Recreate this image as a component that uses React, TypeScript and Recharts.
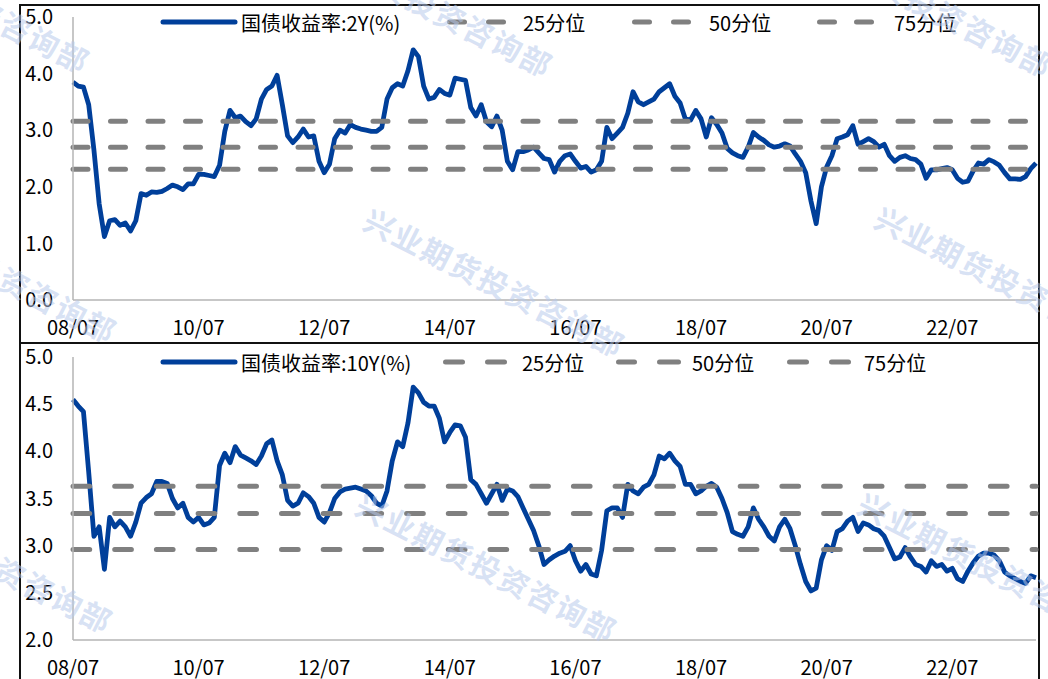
import React from 'react';
import { LineChart, Line, XAxis, YAxis } from 'recharts';

const FONT = '"Noto Sans CJK SC", "Noto Sans", sans-serif';

// Monthly observation dates, 2008-07 .. 2023-11
const START_YEAR = 2008;
const START_MONTH = 7;
const N_MONTHS = 185;
const months: string[] = Array.from({ length: N_MONTHS }, (_, i) => {
  const total = START_MONTH - 1 + i;
  const y = START_YEAR + Math.floor(total / 12);
  const m = (total % 12) + 1;
  return `${y}-${String(m).padStart(2, '0')}`;
});

const xTickPositions = [0, 24, 48, 72, 96, 120, 144, 168];
const xTickLabels = ['08/07', '10/07', '12/07', '14/07', '16/07', '18/07', '20/07', '22/07'];

// 国债收益率:2Y(%)  (rows = Jul..Jun)
const yield2Y = [
  3.85, 3.78, 3.76, 3.45, 2.65, 1.70, 1.12, 1.40, 1.42, 1.32, 1.36, 1.22,
  1.40, 1.88, 1.85, 1.91, 1.90, 1.92, 1.97, 2.03, 2.00, 1.95, 2.05, 2.05,
  2.22, 2.22, 2.20, 2.18, 2.38, 2.98, 3.35, 3.22, 3.25, 3.15, 3.08, 3.20,
  3.55, 3.72, 3.78, 3.97, 3.45, 2.90, 2.78, 2.88, 3.02, 2.88, 2.90, 2.45,
  2.25, 2.40, 2.85, 3.00, 2.95, 3.10, 3.05, 3.02, 3.00, 2.98, 2.98, 3.05,
  3.55, 3.75, 3.82, 3.78, 4.05, 4.42, 4.30, 3.78, 3.55, 3.58, 3.72, 3.65,
  3.62, 3.92, 3.90, 3.88, 3.40, 3.25, 3.45, 3.15, 3.06, 3.25, 3.00, 2.45,
  2.30, 2.62, 2.62, 2.65, 2.70, 2.60, 2.50, 2.48, 2.26, 2.45, 2.55, 2.58,
  2.45, 2.33, 2.36, 2.26, 2.30, 2.45, 3.05, 2.85, 2.95, 3.05, 3.30, 3.68,
  3.50, 3.45, 3.50, 3.55, 3.68, 3.75, 3.82, 3.60, 3.48, 3.20, 3.18, 3.35,
  3.20, 2.88, 3.22, 3.10, 2.95, 2.68, 2.60, 2.55, 2.52, 2.70, 2.96, 2.88,
  2.82, 2.74, 2.70, 2.72, 2.76, 2.72, 2.58, 2.45, 2.25, 1.75, 1.35, 2.00,
  2.35, 2.55, 2.85, 2.88, 2.92, 3.08, 2.75, 2.80, 2.85, 2.80, 2.70, 2.75,
  2.55, 2.45, 2.52, 2.55, 2.50, 2.48, 2.40, 2.15, 2.30, 2.30, 2.32, 2.34,
  2.30, 2.15, 2.08, 2.10, 2.28, 2.42, 2.40, 2.48, 2.44, 2.38, 2.25, 2.14,
  2.14, 2.13, 2.18, 2.32, 2.42,
];

// 国债收益率:10Y(%)
const yield10Y = [
  4.55, 4.48, 4.42, 3.78, 3.10, 3.20, 2.75, 3.30, 3.20, 3.26, 3.20, 3.10,
  3.25, 3.45, 3.51, 3.55, 3.68, 3.68, 3.66, 3.50, 3.40, 3.45, 3.30, 3.25,
  3.30, 3.22, 3.24, 3.30, 3.85, 3.98, 3.88, 4.05, 3.96, 3.93, 3.90, 3.86,
  3.95, 4.08, 4.12, 3.90, 3.75, 3.48, 3.42, 3.45, 3.56, 3.52, 3.45, 3.30,
  3.25, 3.35, 3.50, 3.57, 3.60, 3.61, 3.62, 3.60, 3.58, 3.53, 3.45, 3.42,
  3.58, 3.90, 4.10, 4.05, 4.30, 4.68, 4.62, 4.52, 4.48, 4.48, 4.35, 4.10,
  4.20, 4.28, 4.27, 4.15, 3.70, 3.65, 3.55, 3.45, 3.55, 3.65, 3.48, 3.60,
  3.58, 3.52, 3.40, 3.28, 3.16, 3.00, 2.80, 2.85, 2.89, 2.92, 2.94, 3.00,
  2.84, 2.73, 2.80, 2.70, 2.68, 2.95, 3.37, 3.40, 3.40, 3.30, 3.65, 3.58,
  3.55, 3.62, 3.65, 3.75, 3.95, 3.92, 3.98, 3.90, 3.84, 3.65, 3.65, 3.55,
  3.58, 3.63, 3.66, 3.62, 3.50, 3.35, 3.15, 3.12, 3.10, 3.20, 3.40, 3.28,
  3.20, 3.10, 3.05, 3.20, 3.28, 3.18, 3.00, 2.80, 2.62, 2.52, 2.55, 2.85,
  3.00, 2.95, 3.15, 3.18, 3.26, 3.30, 3.15, 3.24, 3.22, 3.18, 3.16, 3.10,
  2.98, 2.86, 2.88, 2.98, 2.88, 2.80, 2.78, 2.72, 2.84, 2.78, 2.80, 2.73,
  2.76, 2.65, 2.62, 2.73, 2.82, 2.89, 2.92, 2.92, 2.90, 2.84, 2.72, 2.68,
  2.65, 2.62, 2.60, 2.68, 2.66,
];

// 25 / 50 / 75 分位
const percentiles2Y = [2.31, 2.70, 3.16];
const percentiles10Y = [2.96, 3.34, 3.63];

const ticks2Y = [0, 1, 2, 3, 4, 5];
const ticks10Y = [2, 2.5, 3, 3.5, 4, 4.5, 5];

const legendNames2Y = ['国债收益率:2Y(%)', '25分位', '50分位', '75分位'];
const legendNames10Y = ['国债收益率:10Y(%)', '25分位', '50分位', '75分位'];

const build = (vals: number[], pct: number[]) =>
  months.map((d, i) => ({ t: i, date: d, v: vals[i], p25: pct[0], p50: pct[1], p75: pct[2] }));

const data2Y = build(yield2Y, percentiles2Y);
const data10Y = build(yield10Y, percentiles10Y);

const BLUE = '#003f9a';
const GRAY = '#808080';
const AXIS = '#b4b4b4';

type PanelProps = {
  top: number;
  data: any[];
  yDomain: [number, number];
  yTicks: number[];
  marginTop: number;
  marginBottom: number;
  dash: string;
};

function Panel({ top, data, yDomain, yTicks, marginTop, marginBottom, dash }: PanelProps) {
  const tickStyle = { fill: '#000', fontSize: 20, fontFamily: FONT };
  return (
    <div style={{ position: 'absolute', left: 0, top, width: 1048, height: 340 }}>
      <LineChart
        width={1048}
        height={340}
        data={data}
        margin={{ top: marginTop, right: 12, bottom: marginBottom, left: 0 }}
      >
        <XAxis
          type="number"
          dataKey="t"
          domain={[0, 184]}
          ticks={xTickPositions}
          interval={0}
          height={30}
          tickFormatter={(v: number) => xTickLabels[xTickPositions.indexOf(v)] ?? ''}
          axisLine={{ stroke: AXIS, strokeWidth: 1.5 }}
          tickLine={false}
          tickSize={0}
          tickMargin={21}
          tick={tickStyle}
        />
        <YAxis
          type="number"
          domain={yDomain}
          ticks={yTicks}
          interval={0}
          width={73}
          tickFormatter={(v: number) => v.toFixed(1)}
          axisLine={{ stroke: AXIS, strokeWidth: 1.5 }}
          tickLine={false}
          tickSize={0}
          tickMargin={20}
          tick={tickStyle}
        />
        <Line
          type="linear"
          dataKey="v"
          stroke={BLUE}
          strokeWidth={4.8}
          strokeLinejoin="round"
          dot={false}
          activeDot={false}
          isAnimationActive={false}
        />
        {['p25', 'p50', 'p75'].map((k) => (
          <Line
            key={k}
            type="linear"
            dataKey={k}
            stroke={GRAY}
            strokeWidth={5}
            strokeDasharray={dash}
            strokeLinecap="round"
            dot={false}
            activeDot={false}
            isAnimationActive={false}
          />
        ))}
      </LineChart>
    </div>
  );
}

type LegendLayout = {
  cy: number;
  line: [number, number];
  names: string[];
  textX: number[];
  dashes: [number, number][][];
};

function LegendSvg({ cy, line, names, textX, dashes }: LegendLayout) {
  const base = cy + 8.5;
  return (
    <g>
      <line x1={line[0]} x2={line[1]} y1={cy} y2={cy} stroke={BLUE} strokeWidth={5} strokeLinecap="round" />
      {dashes.map((pair, i) =>
        pair.map((d, j) => (
          <line
            key={`${i}-${j}`}
            x1={d[0] + 2.5}
            x2={d[1] - 2.5}
            y1={cy}
            y2={cy}
            stroke={GRAY}
            strokeWidth={5}
            strokeLinecap="round"
          />
        ))
      )}
      {names.map((n, i) => (
        <text key={n + i} x={textX[i]} y={base} fontSize={20} fontFamily={FONT} fill="#000">
          {n}
        </text>
      ))}
    </g>
  );
}

const watermarkCenters: [number, number][] = [
  [-157, -60], [306, -56], [806, -56],
  [-130, 210], [378, 224], [889, 222],
  [-134, 500], [370, 509], [872, 508],
];

export default function App() {
  return (
    <div
      style={{
        position: 'fixed',
        left: 0,
        top: 0,
        width: 1048,
        height: 679,
        overflow: 'hidden',
        background: '#fff',
        fontFamily: FONT,
      }}
    >
      <div
        style={{
          position: 'absolute',
          left: 19,
          top: 4,
          width: 1021,
          height: 340,
          border: '2px solid #111',
          boxSizing: 'border-box',
        }}
      />
      <div
        style={{
          position: 'absolute',
          left: 19,
          top: 342,
          width: 1021,
          height: 360,
          border: '2px solid #111',
          boxSizing: 'border-box',
        }}
      />
      <Panel top={4} data={data2Y} yDomain={[0, 5]} yTicks={ticks2Y} marginTop={13} marginBottom={14} dash="15 22.5" />
      <Panel top={343} data={data10Y} yDomain={[2, 5]} yTicks={ticks10Y} marginTop={14} marginBottom={13} dash="16.7 25" />
      <svg width={1048} height={679} style={{ position: 'absolute', left: 0, top: 0, pointerEvents: 'none' }}>
        <LegendSvg
          cy={22}
          line={[163, 235]}
          names={legendNames2Y}
          textX={[241, 523, 709, 894]}
          dashes={[
            [[447, 467], [486, 506]],
            [[632, 652], [671, 691]],
            [[817, 837], [854, 874]],
          ]}
        />
        <LegendSvg
          cy={362}
          line={[163, 235]}
          names={legendNames10Y}
          textX={[241, 522, 692, 864]}
          dashes={[
            [[443, 465], [485, 507]],
            [[616, 637], [657, 681]],
            [[787, 809], [829, 851]],
          ]}
        />
        {watermarkCenters.map(([cx, cy], i) => {
          const x = cx - 17;
          const y = cy + 4;
          return (
            <text
              key={i}
              x={x}
              y={y}
              transform={`rotate(27 ${x} ${y})`}
              fontSize={30}
              fontWeight={700}
              fontFamily={FONT}
              fill="#b7c9ec"
              fillOpacity={0.55}
              letterSpacing={2}
            >
              兴业期货投资咨询部
            </text>
          );
        })}
      </svg>
    </div>
  );
}
